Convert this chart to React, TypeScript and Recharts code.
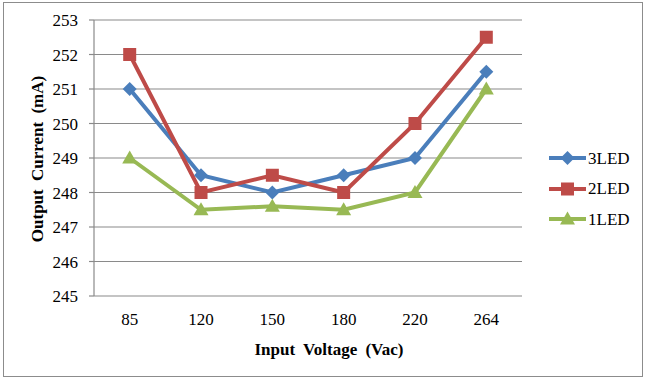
import { LineChart, Line, XAxis, YAxis, CartesianGrid } from "recharts";

const voltages = ["85", "120", "150", "180", "220", "264"];
const led3 = [251, 248.5, 248, 248.5, 249, 251.5];
const led2 = [252, 248, 248.5, 248, 250, 252.5];
const led1 = [249, 247.5, 247.6, 247.5, 248, 251];
const yTicks = [245, 246, 247, 248, 249, 250, 251, 252, 253];

const data = voltages.map((v, i) => ({ v, led3: led3[i], led2: led2[i], led1: led1[i] }));

const series = [
  { key: "led3", name: "3LED", color: "#4A7EBB", shape: "diamond" },
  { key: "led2", name: "2LED", color: "#BE4B48", shape: "square" },
  { key: "led1", name: "1LED", color: "#98B954", shape: "triangle" },
];

const FONT = "'Liberation Serif', 'Times New Roman', serif";
const GRID = "#8a8a8a";

function marker(shape: string, color: string, cx: number, cy: number, key?: string) {
  if (shape === "diamond")
    return <path key={key} d={`M${cx},${cy - 7}L${cx + 7},${cy}L${cx},${cy + 7}L${cx - 7},${cy}Z`} fill={color} />;
  if (shape === "square")
    return <rect key={key} x={cx - 6.5} y={cy - 6.5} width={13} height={13} fill={color} />;
  return <path key={key} d={`M${cx},${cy - 7.5}L${cx + 7.5},${cy + 5.5}L${cx - 7.5},${cy + 5.5}Z`} fill={color} />;
}

// legend drawn as plain HTML so it doesn't steal space from the plot
const ChartLegend = () => (
  <div style={{ position: "absolute", left: 548, top: 143, width: 95, fontFamily: FONT, fontSize: 17 }}>
    {series.map((s) => (
      <div key={s.key} style={{ display: "flex", alignItems: "center", height: 30.5 }}>
        <svg width={40} height={20}>
          <line x1={1} y1={10} x2={38} y2={10} stroke={s.color} strokeWidth={4} />
          {marker(s.shape, s.color, 19.5, 10)}
        </svg>
        <span style={{ color: "#000", lineHeight: "17px" }}>{s.name}</span>
      </div>
    ))}
  </div>
);

export default function App() {
  return (
    <div style={{ position: "absolute", left: 0, top: 0, width: 646, height: 379, background: "#fff" }}>
      <div
        style={{
          position: "absolute",
          left: 3,
          top: 2,
          width: 638,
          height: 373,
          border: "1px solid #8c8c8c",
        }}
      />
      <LineChart
        width={646}
        height={379}
        data={data}
        margin={{ top: 20, right: 124, bottom: 53, left: 0 }}
        style={{ position: "absolute", left: 0, top: 0 }}
      >
        <CartesianGrid vertical={false} stroke={GRID} strokeWidth={1.2} />
        <XAxis
          dataKey="v"
          height={30}
          padding={{ left: 35.7, right: 35.7 }}
          axisLine={false}
          tickLine={false}
          tickSize={0}
          tickMargin={17}
          tick={{ fill: "#000", fontFamily: FONT, fontSize: 17 }}
          label={{
            content: () => (
              <text
                x={329}
                y={355}
                textAnchor="middle"
                fontFamily={FONT}
                fontSize={17}
                fontWeight="bold"
                fill="#000"
                style={{ wordSpacing: 4 }}
              >
                Input Voltage (Vac)
              </text>
            ),
          }}
        />
        <YAxis
          width={94}
          domain={[245, 253]}
          ticks={yTicks}
          interval={0}
          axisLine={{ stroke: GRID, strokeWidth: 1.2 }}
          tickLine={{ stroke: GRID, strokeWidth: 1.2 }}
          tickSize={5}
          tickMargin={11}
          tick={{ fill: "#000", fontFamily: FONT, fontSize: 17 }}
          label={{
            content: () => (
              <text
                x={43}
                y={159}
                transform="rotate(-90 43 159)"
                textAnchor="middle"
                fontFamily={FONT}
                fontSize={17}
                fontWeight="bold"
                fill="#000"
                style={{ wordSpacing: 4 }}
              >
                Output Current (mA)
              </text>
            ),
          }}
        />
        {series.map((s) => (
          <Line
            key={s.key}
            dataKey={s.key}
            name={s.name}
            stroke={s.color}
            strokeWidth={4}
            isAnimationActive={false}
            dot={(p: any) => marker(s.shape, s.color, p.cx, p.cy, `${s.key}-${p.index}`)}
            activeDot={false}
          />
        ))}
      </LineChart>
      <ChartLegend />
    </div>
  );
}
